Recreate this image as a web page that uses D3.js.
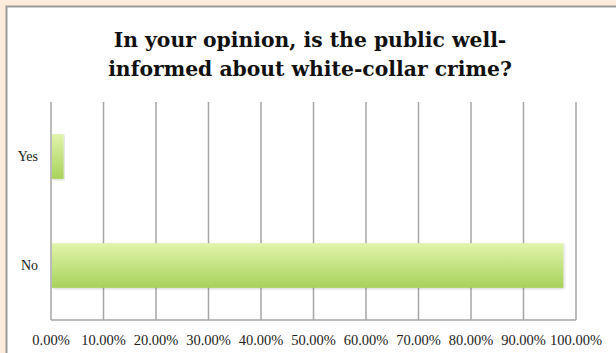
<!DOCTYPE html>
<html>
<head>
<meta charset="utf-8">
<script src="https://cdn.jsdelivr.net/npm/d3@7"></script>
<style>
  html, body { margin: 0; padding: 0; background: #fdebdb; }
  svg { display: block; }
</style>
</head>
<body>
<svg id="chart" width="616" height="353"></svg>
<script>
// Survey answers and their shares of respondents
const categories = ["Yes", "No"];
const shares = [0.024, 0.976];
const tickValues = [0, 0.1, 0.2, 0.3, 0.4, 0.5, 0.6, 0.7, 0.8, 0.9, 1.0];
const titleLines = ["In your opinion, is the public well-", "informed about white-collar crime?"];

const svg = d3.select("#chart");
const W = 616, H = 353;
const margin = { left: 51, right: 41, top: 102, bottom: 33 };

const defs = svg.append("defs");
const grad = defs.append("linearGradient")
  .attr("id", "barFill").attr("x1", 0).attr("y1", 0).attr("x2", 0).attr("y2", 1);
grad.append("stop").attr("offset", "0%").attr("stop-color", "#e1f4ac");
grad.append("stop").attr("offset", "100%").attr("stop-color", "#a7d25b");

const shadow = defs.append("filter").attr("id", "soft")
  .attr("x", "-5%").attr("y", "-20%").attr("width", "110%").attr("height", "140%");
shadow.append("feDropShadow").attr("dx", 1).attr("dy", 1).attr("stdDeviation", 1)
  .attr("flood-color", "#000").attr("flood-opacity", 0.18);

// Chart panel
svg.append("rect")
  .attr("x", 6.5).attr("y", 6.5).attr("width", W).attr("height", H)
  .attr("fill", "#fff").attr("stroke", "#9a9a9a").attr("stroke-width", 2);

const x = d3.scaleLinear().domain([0, 1]).range([margin.left, W - margin.right + 1]);
const y = d3.scaleBand().domain(categories).range([margin.top, H - margin.bottom])
  .paddingInner(0.59).paddingOuter(0.295);

// Vertical gridlines
svg.append("g").selectAll("line").data(tickValues).join("line")
  .attr("x1", d => x(d)).attr("x2", d => x(d))
  .attr("y1", margin.top).attr("y2", H - margin.bottom)
  .attr("stroke", "#a6a6a6").attr("stroke-width", 1.5);

// Baseline
svg.append("line")
  .attr("x1", x(0)).attr("x2", x(1))
  .attr("y1", H - margin.bottom).attr("y2", H - margin.bottom)
  .attr("stroke", "#a6a6a6").attr("stroke-width", 1.5);

// Bars
svg.append("g").selectAll("rect").data(categories).join("rect")
  .attr("x", x(0) + 1)
  .attr("y", d => y(d))
  .attr("width", (d, i) => x(shares[i]) - x(0) - 1)
  .attr("height", y.bandwidth())
  .attr("fill", "url(#barFill)")
  .attr("filter", "url(#soft)");

// Category labels
svg.append("g").selectAll("text").data(categories).join("text")
  .attr("x", 38).attr("y", d => y(d) + y.bandwidth() / 2)
  .attr("dy", "0.35em").attr("text-anchor", "end")
  .attr("font-family", "Liberation Serif, serif").attr("font-size", 14)
  .attr("fill", "#222").text(d => d);

// Percentage axis labels
const fmt = d3.format(".2%");
svg.append("g").selectAll("text").data(tickValues).join("text")
  .attr("x", d => x(d)).attr("y", 345)
  .attr("text-anchor", "middle")
  .attr("font-family", "Liberation Serif, serif").attr("font-size", 14.5)
  .attr("fill", "#222").text(d => fmt(d));

// Title, sized so its first line spans about 393px
const title = svg.append("g").selectAll("text").data(titleLines).join("text")
  .attr("x", 310).attr("y", (d, i) => 47 + i * 28.5)
  .attr("text-anchor", "middle")
  .attr("font-family", "DejaVu Serif, serif").attr("font-weight", "bold")
  .attr("font-size", 18).attr("fill", "#111").text(d => d);
const firstWidth = title.node().getComputedTextLength();
title.attr("font-size", 18 * 393 / firstWidth);
</script>
</body>
</html>
